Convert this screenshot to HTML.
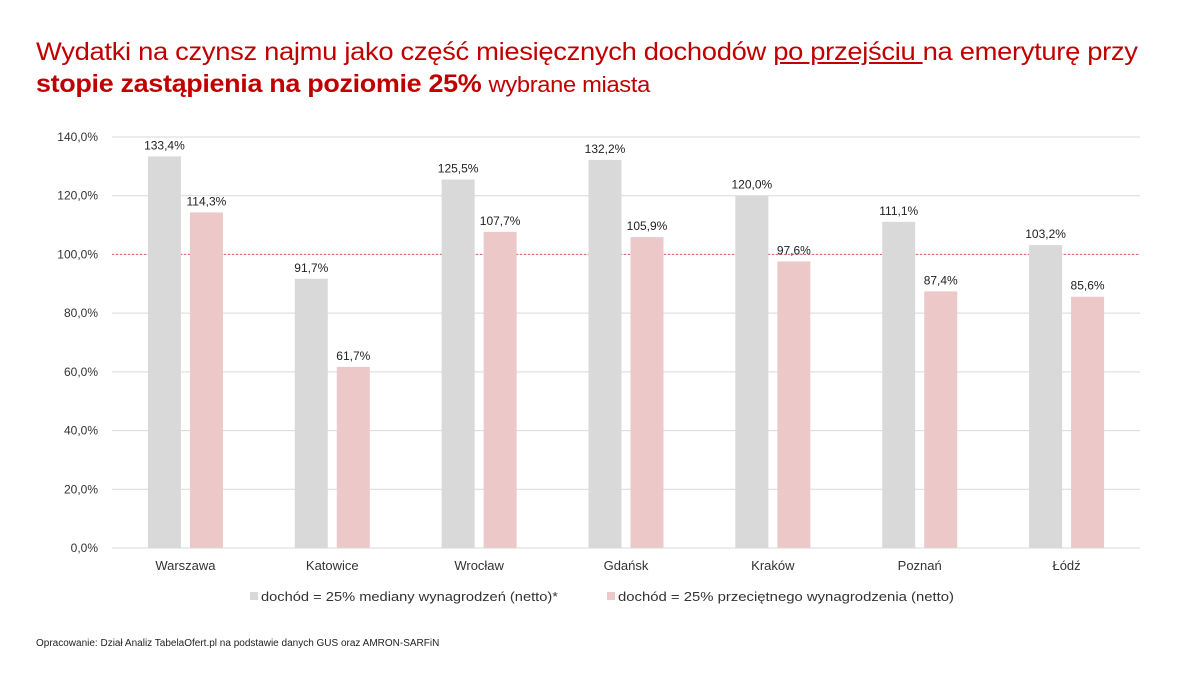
<!DOCTYPE html>
<html><head><meta charset="utf-8"><style>
body{margin:0;width:1200px;height:675px;background:#fff;font-family:"Liberation Sans",sans-serif;overflow:hidden;position:relative}
.t{position:absolute;left:36px;color:#c00000;font-size:25px;letter-spacing:-0.3px;white-space:nowrap;transform-origin:0 0}
</style></head><body>
<div class="t" style="top:38px;transform:scaleX(1.095)">Wydatki na czynsz najmu jako część miesięcznych dochodów <u>po przejściu </u>na emeryturę przy</div>
<div class="t" style="top:70px;transform:scaleX(1.077)"><b>stopie zastąpienia na poziomie 25%</b> <span style="font-size:22px">wybrane miasta</span></div>
<svg id="c" width="1200" height="675" style="position:absolute;left:0;top:0"></svg>
<div style="position:absolute;left:36px;top:638px;font-size:10px;color:#222">Opracowanie: Dział Analiz TabelaOfert.pl na podstawie danych GUS oraz AMRON-SARFiN</div>
<script>
const categories=["Warszawa","Katowice","Wrocław","Gdańsk","Kraków","Poznań","Łódź"];
const medianValues=[133.4,91.7,125.5,132.2,120.0,111.1,103.2];
const averageValues=[114.3,61.7,107.7,105.9,97.6,87.4,85.6];
const yTicks=[0,20,40,60,80,100,120,140];
const seriesNames=["dochód = 25% mediany wynagrodzeń (netto)*","dochód = 25% przeciętnego wynagrodzenia (netto)"];
const svg=document.getElementById('c');const NS="http://www.w3.org/2000/svg";
const x0=112,x1=1140,y0=548,yTop=137;
const y=v=>y0-(v/140)*(y0-yTop);
const gw=(x1-x0)/categories.length;
const cx=i=>x0+gw*(i+0.5);
function mk(t,a,txt){const e=document.createElementNS(NS,t);for(const k in a)e.setAttribute(k,a[k]);if(txt!==undefined)e.textContent=txt;svg.appendChild(e);return e;}
const fmt=v=>v.toFixed(1).replace('.',',')+'%';
yTicks.forEach(v=>{
 const l=mk('line',{x1:x0,x2:x1,y1:y(v),y2:y(v),stroke:'#d9d9d9','stroke-width':1});
 
 const t=mk('text',{x:98,y:y(v)+4,'text-anchor':'end','font-size':12,fill:'#333'},fmt(v));
 
});
const rl=mk('line',{x1:x0,x2:x1,y1:y(100),y2:y(100),stroke:'#e06060','stroke-width':1,'stroke-dasharray':'2,2'});

const bw=33;
categories.forEach((c,i)=>{
 [[medianValues[i],-21,'#d9d9d9','bar-median'],[averageValues[i],21,'#ecc8c8','bar-average']].forEach(([v,o,col,n])=>{
  const r=mk('rect',{x:cx(i)+o-bw/2,y:y(v),width:bw,height:y0-y(v),fill:col});
  
  const t=mk('text',{x:cx(i)+o,y:y(v)-7,'text-anchor':'middle','font-size':12,fill:'#222'},fmt(v));
  
 });
 const t=mk('text',{x:cx(i),y:570,'text-anchor':'middle','font-size':13,fill:'#333'},c);
 
});
const ax=mk('line',{x1:x0,x2:x1,y1:y0,y2:y0,stroke:'#d9d9d9','stroke-width':1});

[[250,'#d9d9d9',297],[607,'#ecc8c8',336]].forEach(([lx,col,tl],k)=>{
 const r=mk('rect',{x:lx,y:592,width:8,height:8,fill:col});
 
 const t=mk('text',{x:lx+11,y:601,'font-size':13,fill:'#333',textLength:tl,lengthAdjust:'spacingAndGlyphs'},seriesNames[k]);
 
});
</script>
</body></html>
